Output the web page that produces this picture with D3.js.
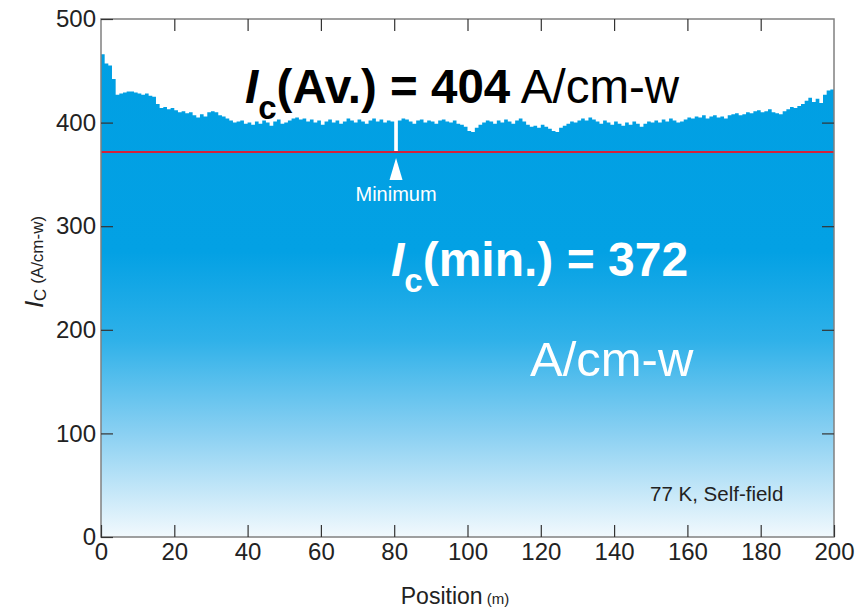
<!DOCTYPE html>
<html><head><meta charset="utf-8">
<script src="https://cdn.jsdelivr.net/npm/d3@7"></script>
<style>
html,body{margin:0;padding:0;background:#fff;}
svg text{font-family:"Liberation Sans",Arial,Helvetica,sans-serif;}
</style></head>
<body>
<svg id="chart" width="855" height="609"></svg>
<script>
// ---- data ----
const positionStart = 0, positionStep = 1;   // metres
const icValues = [
 466,457,455,442,427,428,429,430,430,429,
 428,427,428,426,425,418,414,415,413,414,
 412,410,411,409,410,407,405,408,406,410,
 411,410,407,406,404,402,400,401,402,399,
 400,398,401,399,402,400,397,401,403,399,
 400,402,404,405,403,404,401,403,400,402,
 398,401,403,400,402,399,401,404,402,400,
 403,401,399,402,404,401,403,400,402,401,
 372,402,404,403,401,399,402,403,400,402,
 401,399,402,403,401,400,402,399,398,396,
 392,391,395,398,400,402,401,399,402,400,
 403,401,399,402,404,401,398,396,397,395,
 398,396,394,392,391,395,397,399,401,400,
 402,404,402,405,403,401,399,402,400,398,
 401,399,397,400,398,401,399,396,399,401,
 400,402,400,403,401,404,402,400,401,403,
 405,404,406,405,407,404,406,407,405,406,
 404,407,408,409,407,408,410,409,411,412,
 410,411,413,410,409,408,411,413,415,414,
 416,418,421,424,420,423,419,427,431,432,
 433
];
const minimumValue = 372;
const minimumPosition = 80.5;
const xTicks = [0,20,40,60,80,100,120,140,160,180,200];
const yTicks = [0,100,200,300,400,500];
const labels = {
  avg: {name:"(Av.) = 404", unit:" A/cm-w"},
  min: {name:"(min.) = 372", unit:"A/cm-w"},
  minimum: "Minimum",
  condition: "77 K, Self-field",
  xTitle: "Position", xUnit: "(m)",
  yUnit: "(A/cm-w)"
};

const data = icValues.map((v,i)=>({p: positionStart + i*positionStep, v}));

// ---- layout ----
const svg = d3.select("#chart");
const L = 101, R = 834, T = 19, B = 537;
const x = d3.scaleLinear().domain([0,200]).range([L,R]);
const y = d3.scaleLinear().domain([0,500]).range([B,T]);

const defs = svg.append("defs");
const grad = defs.append("linearGradient").attr("id","fillGrad")
  .attr("gradientUnits","userSpaceOnUse")
  .attr("x1",0).attr("x2",0).attr("y1",y(500)).attr("y2",y(0));
[[0,"#009fe3"],[0.45,"#03a1e4"],[0.62,"#2fb1e9"],[0.8,"#8ad0f2"],[1,"#f2f9fd"]]
  .forEach(([o,c])=>grad.append("stop").attr("offset",o).attr("stop-color",c));
defs.append("clipPath").attr("id","clip").append("rect")
  .attr("x",L).attr("y",T).attr("width",R-L).attr("height",B-T);

const area = d3.area().x(d=>x(d.p)).y0(y(0)).y1(d=>y(d.v)).curve(d3.curveStepAfter);
svg.append("path").datum(data).attr("clip-path","url(#clip)")
  .attr("d",area).attr("fill","url(#fillGrad)");

// red minimum line
const yMin = Math.round(y(minimumValue));
svg.append("line").attr("x1",L).attr("x2",R)
  .attr("y1",yMin).attr("y2",yMin)
  .attr("stroke","#d4213a").attr("stroke-width",2);

// frame
svg.append("rect").attr("x",L).attr("y",T).attr("width",R-L).attr("height",B-T)
  .attr("fill","none").attr("stroke","#808080").attr("stroke-width",1.5);

// axes
const tickLen = 12;
function styleAxis(g){
  g.select(".domain").remove();
  g.selectAll(".tick line").attr("stroke","#333").attr("stroke-width",1.2);
  g.selectAll(".tick text").attr("fill","#222").style("font-size","24px");
}
svg.append("g").attr("transform",`translate(0,${B})`)
  .call(d3.axisBottom(x).tickValues(xTicks).tickSizeInner(-tickLen).tickSizeOuter(0).tickPadding(6).tickFormat(d3.format("d")))
  .call(styleAxis);
svg.append("g").attr("transform",`translate(0,${T})`)
  .call(d3.axisTop(x).tickValues(xTicks.slice(1,-1)).tickSizeInner(-tickLen).tickSizeOuter(0).tickFormat(""))
  .call(styleAxis);
svg.append("g").attr("transform",`translate(${L},0)`)
  .call(d3.axisLeft(y).tickValues(yTicks).tickSizeInner(-tickLen).tickSizeOuter(0).tickPadding(5).tickFormat(d3.format("d")))
  .call(styleAxis);
svg.append("g").attr("transform",`translate(${R},0)`)
  .call(d3.axisRight(y).tickValues(yTicks.slice(1,-1)).tickSizeInner(-tickLen).tickSizeOuter(0).tickFormat(""))
  .call(styleAxis);

// axis titles
const xt = svg.append("text").attr("x",455).attr("y",604).attr("text-anchor","middle")
  .attr("fill","#222").style("font-size","23px");
xt.append("tspan").text(labels.xTitle);
xt.append("tspan").style("font-size","15px").text(" " + labels.xUnit);

const yt = svg.append("text").attr("transform","translate(43,262) rotate(-90)")
  .attr("text-anchor","middle").attr("fill","#222").style("font-size","26px");
yt.append("tspan").style("font-style","italic").text("I");
yt.append("tspan").style("font-size","17px").attr("dy",3).text("C");
yt.append("tspan").style("font-size","17px").attr("dy",-3).text(" " + labels.yUnit);

// average annotation
const av = svg.append("text").attr("x",245).attr("y",103).attr("fill","#000")
  .style("font-size","47.5px").style("font-weight","bold");
av.append("tspan").style("font-style","italic").text("I");
av.append("tspan").attr("dy",16).style("font-size","33px").text("c");
av.append("tspan").attr("dy",-16).text(labels.avg.name);
av.append("tspan").style("font-weight","normal").text(labels.avg.unit);

// minimum marker
const mx = x(minimumPosition);
svg.append("path")
  .attr("d",`M${mx},${yMin+6}L${mx+6.5},${yMin+28}L${mx-6.5},${yMin+28}Z`)
  .attr("fill","#fff");
svg.append("text").attr("x",mx).attr("y",201).attr("text-anchor","middle")
  .attr("fill","#fff").style("font-size","20px").text(labels.minimum);

// minimum annotation
const mn = svg.append("text").attr("x",391).attr("y",276).attr("fill","#fff")
  .style("font-size","48px").style("font-weight","bold");
mn.append("tspan").style("font-style","italic").text("I");
mn.append("tspan").attr("dy",16).style("font-size","33px").text("c");
mn.append("tspan").attr("dy",-16).text(labels.min.name);
svg.append("text").attr("x",530).attr("y",376).attr("fill","#fff")
  .style("font-size","49px").text(labels.min.unit);

// condition
svg.append("text").attr("x",650).attr("y",501).attr("fill","#222")
  .style("font-size","20.5px").text(labels.condition);
</script>
</body></html>
